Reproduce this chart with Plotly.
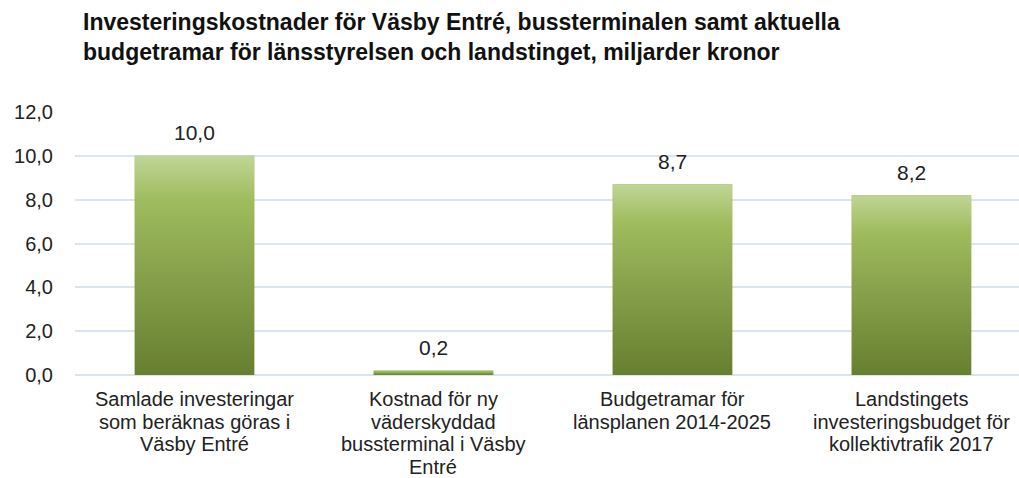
import plotly.graph_objects as go

categories = [
    "Samlade investeringar<br>som beräknas göras i<br>Väsby Entré",
    "Kostnad för ny<br>väderskyddad<br>bussterminal i Väsby<br>Entré",
    "Budgetramar för<br>länsplanen 2014-2025",
    "Landstingets<br>investeringsbudget för<br>kollektivtrafik 2017",
]
values = [10.0, 0.2, 8.7, 8.2]
y_ticks = [0, 2, 4, 6, 8, 10, 12]
title_text = ("<b>Investeringskostnader för Väsby Entré, bussterminalen samt aktuella<br>"
              "budgetramar för länsstyrelsen och landstinget, miljarder kronor</b>")

positions = list(range(len(categories)))
bar_width = 0.5
font = "Liberation Sans, Arial, sans-serif"
text_color = "#222222"
gradient = [[0, "#677f30"], [0.45, "#86a04a"], [0.8, "#9fbc5e"], [1, "#c0d597"]]

fig = go.Figure()
fig.add_trace(go.Bar(
    x=positions, y=values, width=bar_width,
    marker=dict(color="#8ca550", line=dict(width=0)),
    hoverinfo="skip", showlegend=False,
))
# gradient overlay on each bar, built from the same values
for p, v in zip(positions, values):
    h = bar_width / 2
    fig.add_trace(go.Scatter(
        x=[p - h, p - h, p + h, p + h, p - h],
        y=[0, v, v, 0, 0],
        mode="lines", line=dict(width=0),
        fill="toself",
        fillgradient=dict(type="vertical", colorscale=gradient),
        hoverinfo="skip", showlegend=False,
    ))

annotations = []
# value labels above bars
for p, v in zip(positions, values):
    annotations.append(dict(
        x=p, y=v, xref="x", yref="y", text=f"{v:.1f}".replace(".", ","),
        showarrow=False, yanchor="middle", yshift=23,
        font=dict(size=21, color=text_color, family=font),
    ))
# category labels, line by line
for p, label in zip(positions, categories):
    for k, line in enumerate(label.split("<br>")):
        annotations.append(dict(
            x=p, y=0, xref="x", yref="y", text=line,
            showarrow=False, yanchor="middle", yshift=-(24 + 22.5 * k),
            font=dict(size=20, color=text_color, family=font),
        ))
# title
annotations.append(dict(
    x=(82 - 75) / 944, y=1 + (112 - 8) / 263, xref="paper", yref="paper",
    text=title_text, showarrow=False, xanchor="left", yanchor="top",
    align="left", borderpad=0,
    font=dict(size=23, color="#111111", family=font),
))

fig.update_layout(
    width=1019, height=478,
    paper_bgcolor="white", plot_bgcolor="white",
    separators=", ",
    margin=dict(l=75, r=0, t=112, b=103),
    annotations=annotations,
    xaxis=dict(range=[-0.5, 3.45], showticklabels=False,
               showgrid=False, zeroline=False, showline=False),
    yaxis=dict(range=[0, 12], tickvals=y_ticks, tickformat=".1f",
               showgrid=True, gridcolor="#dbe5f1", gridwidth=1.5,
               zeroline=True, zerolinecolor="#dbe5f1", zerolinewidth=1.5,
               ticklabelstandoff=21,
               tickfont=dict(size=20, color=text_color, family=font)),
)

fig.write_html("out.html", config={"displayModeBar": False},
               post_script="document.body.style.margin='0';document.body.style.padding='0';")
